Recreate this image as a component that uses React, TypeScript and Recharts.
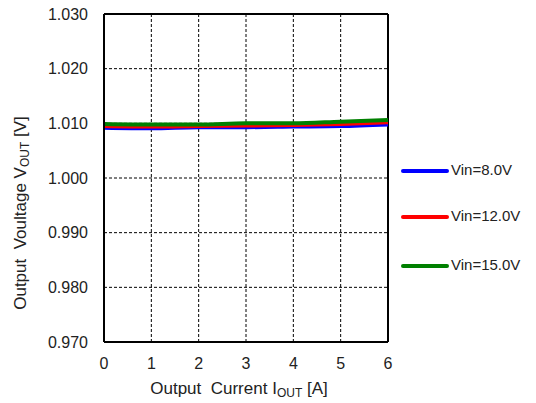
import React from "react";
import { LineChart, Line, XAxis, YAxis, CartesianGrid, ReferenceLine } from "recharts";

const currents = [0, 1, 2, 3, 4, 5, 6];
const vin8 = [1.0092, 1.0091, 1.0093, 1.0093, 1.0094, 1.0095, 1.0098];
const vin12 = [1.0095, 1.0094, 1.0095, 1.0096, 1.0097, 1.0099, 1.0102];
const vin15 = [1.0099, 1.0098, 1.0098, 1.01, 1.01, 1.0103, 1.0106];
const yTicks = [0.97, 0.98, 0.99, 1.0, 1.01, 1.02, 1.03];
const xTicks = [0, 1, 2, 3, 4, 5, 6];

const series = [
  { key: "vin8", name: "Vin=8.0V", color: "#0000ff" },
  { key: "vin12", name: "Vin=12.0V", color: "#ff0000" },
  { key: "vin15", name: "Vin=15.0V", color: "#008000" },
];
const legendY = [171, 217, 266];

const data = currents.map((c, i) => ({
  iout: c,
  vin8: vin8[i],
  vin12: vin12[i],
  vin15: vin15[i],
}));

const font = "Liberation Sans, Arial, sans-serif";

const App: React.FC = () => {
  return (
    <div style={{ position: "absolute", left: 0, top: 0, width: 536, height: 403, background: "#fff", fontFamily: font }}>
      <LineChart width={536} height={403} data={data} margin={{ top: 14, right: 148, left: 0, bottom: 0 }}>
        <CartesianGrid stroke="#000" strokeDasharray="3 2" strokeWidth={1} />
        <XAxis
          dataKey="iout"
          type="number"
          domain={[0, 6]}
          ticks={xTicks}
          height={61}
          tickSize={0}
          tickMargin={16}
          axisLine={{ stroke: "#000", strokeWidth: 2 }}
          tick={{ fill: "#222", fontSize: 16, fontFamily: font }}
        />
        <YAxis
          type="number"
          domain={[0.97, 1.03]}
          ticks={yTicks}
          width={104}
          tickSize={0}
          tickMargin={16}
          tickFormatter={(v: number) => v.toFixed(3)}
          axisLine={{ stroke: "#000", strokeWidth: 2 }}
          tick={{ fill: "#222", fontSize: 16, fontFamily: font }}
        />
        <ReferenceLine x={6} stroke="#000" strokeWidth={2} />
        <ReferenceLine y={1.03} stroke="#000" strokeWidth={2} />
        {series.map((s) => (
          <Line
            key={s.key}
            type="monotone"
            dataKey={s.key}
            stroke={s.color}
            strokeWidth={4}
            dot={false}
            isAnimationActive={false}
          />
        ))}
        <text x={239} y={390} textAnchor="middle" dominantBaseline="middle" fontSize={17} fill="#222" fontFamily={font} style={{ whiteSpace: "pre" }}>
          {"Output  Current I"}<tspan fontSize={12} dy={4}>OUT</tspan><tspan dy={-4}>{" [A]"}</tspan>
        </text>
        <text
          x={22}
          y={213}
          textAnchor="middle"
          dominantBaseline="middle"
          fontSize={17}
          fill="#222"
          fontFamily={font}
          style={{ whiteSpace: "pre" }}
          transform="rotate(-90 22 213)"
        >
          {"Output  Voultage V"}<tspan fontSize={12} dy={4}>OUT</tspan><tspan dy={-4}>{" [V]"}</tspan>
        </text>
        {series.map((s, i) => (
          <g key={s.key}>
            <line x1={403} x2={447} y1={legendY[i]} y2={legendY[i]} stroke={s.color} strokeWidth={4} strokeLinecap="round" />
            <text x={451} y={legendY[i]} dominantBaseline="middle" fontSize={15} fill="#222" fontFamily={font}>
              {s.name}
            </text>
          </g>
        ))}
      </LineChart>
    </div>
  );
};

export default App;
